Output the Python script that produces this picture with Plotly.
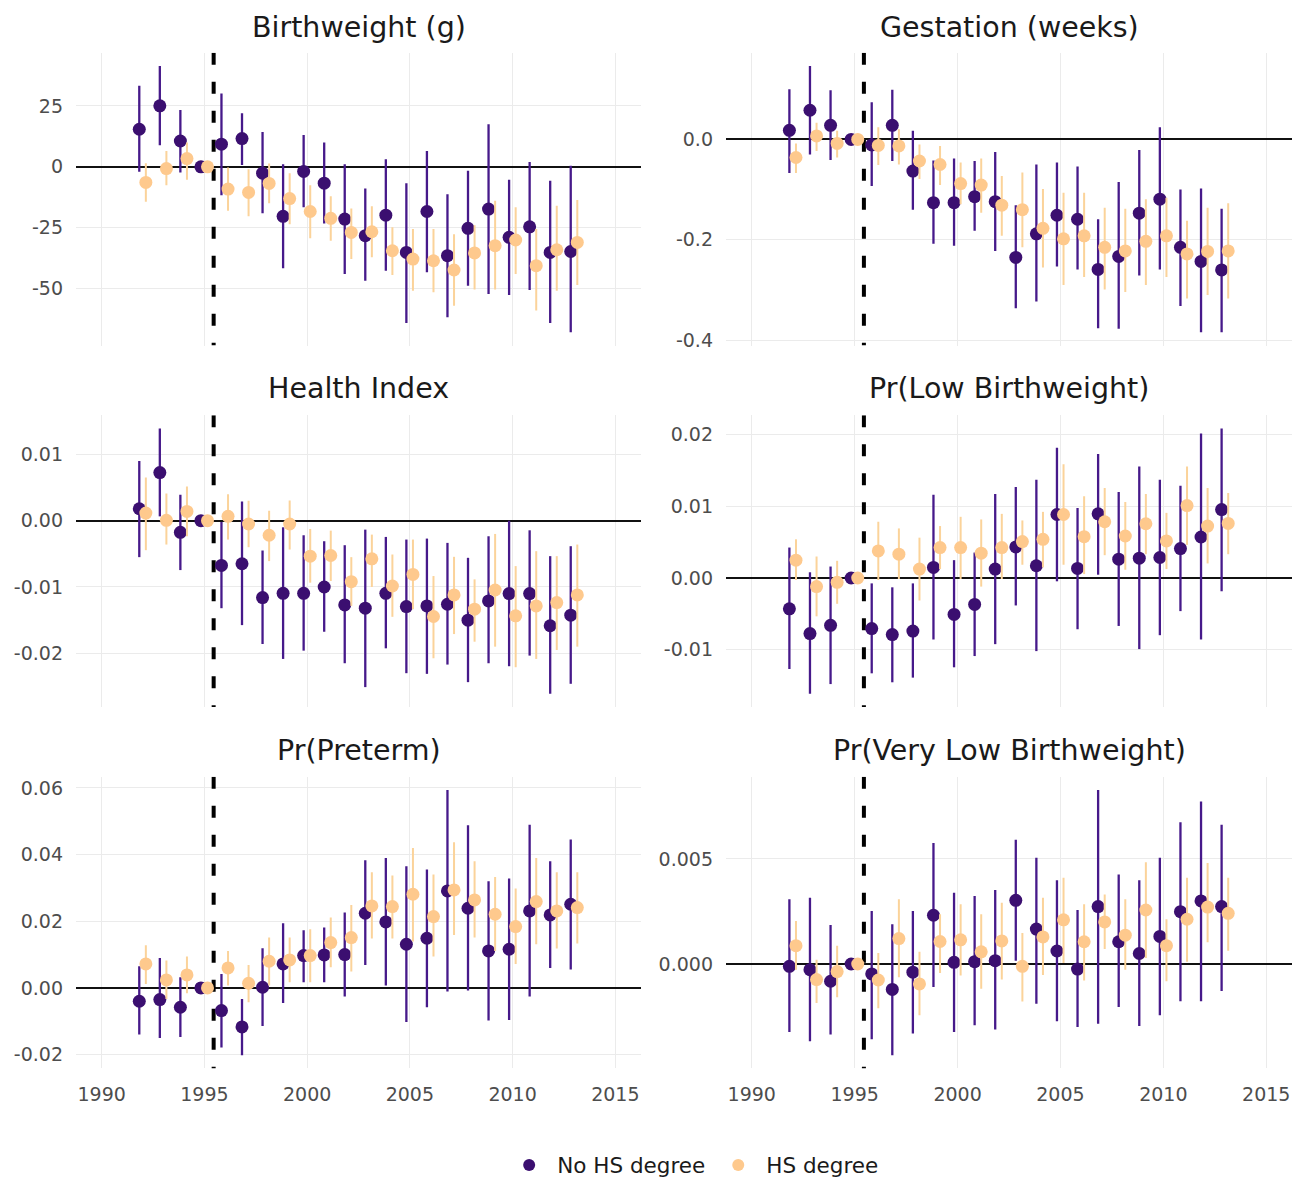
import plotly.graph_objects as go

# ---------------- data ----------------
years = list(range(1992, 2014))
event_year = 1995.45
x_limits = [1990, 2015]
x_tick_vals = [1990, 1995, 2000, 2005, 2010, 2015]
x_tick_text = ["1990", "1995", "2000", "2005", "2010", "2015"]
series_names = ["No HS degree", "HS degree"]
titles = ["Birthweight (g)", "Gestation (weeks)", "Health Index",
          "Pr(Low Birthweight)", "Pr(Preterm)", "Pr(Very Low Birthweight)"]

# Birthweight (g)
bw_nohs = [15.4, 25.0, 10.6, 0, 9.3, 11.6, -2.6, -20.3, -1.9, -6.7, -21.4, -28.2, -19.8, -35.1, -18.3, -36.4, -25.2, -17.3, -28.9, -24.6, -35.1, -34.7]
bw_nohs_lo = [-2.0, 8.9, -2.3, 0, -11.6, 0.8, -19.0, -41.6, -16.6, -23.2, -43.9, -46.7, -42.6, -64.0, -43.2, -61.7, -48.7, -52.1, -52.5, -50.5, -64.0, -67.8]
bw_nohs_hi = [33.2, 41.3, 23.3, 0, 30.1, 22.0, 14.3, 1.1, 13.1, 10.0, 1.1, -8.9, 3.1, -6.7, 6.5, -11.2, -1.6, 17.5, -5.3, 2.0, -5.7, 0.4]
bw_hs = [-6.4, -0.7, 3.4, 0, -9.1, -10.5, -6.8, -13.0, -18.3, -21.1, -26.9, -26.6, -34.4, -37.8, -38.5, -42.3, -35.3, -32.3, -30.0, -40.5, -34.0, -31.0]
bw_hs_lo = [-14.3, -7.5, -5.3, 0, -18.0, -20.3, -14.9, -23.5, -29.3, -30.3, -37.8, -37.1, -44.3, -50.8, -51.4, -56.9, -50.3, -50.3, -43.9, -58.9, -50.8, -48.4]
bw_hs_hi = [1.5, 6.5, 10.0, 0, -0.3, -1.0, 1.4, -2.6, -7.5, -12.1, -17.1, -16.2, -24.8, -25.5, -25.5, -27.6, -23.9, -13.9, -16.6, -25.5, -16.0, -13.6]

# Gestation (weeks)
gest_nohs = [0.018, 0.058, 0.028, 0, -0.011, 0.028, -0.063, -0.126, -0.126, -0.114, -0.124, -0.235, -0.188, -0.151, -0.159, -0.259, -0.233, -0.147, -0.119, -0.215, -0.243, -0.260]
gest_nohs_lo = [-0.067, -0.030, -0.041, 0, -0.093, -0.043, -0.140, -0.208, -0.212, -0.182, -0.222, -0.336, -0.323, -0.253, -0.259, -0.376, -0.377, -0.271, -0.259, -0.332, -0.384, -0.384]
gest_nohs_hi = [0.100, 0.146, 0.098, 0, 0.074, 0.099, 0.017, -0.042, -0.038, -0.043, -0.025, -0.131, -0.050, -0.046, -0.054, -0.159, -0.085, -0.021, 0.024, -0.100, -0.098, -0.138]
gest_hs = [-0.036, 0.007, -0.008, 0, -0.012, -0.013, -0.043, -0.050, -0.088, -0.091, -0.131, -0.140, -0.177, -0.198, -0.192, -0.215, -0.222, -0.203, -0.192, -0.228, -0.223, -0.222]
gest_hs_lo = [-0.067, -0.023, -0.036, 0, -0.051, -0.050, -0.079, -0.091, -0.129, -0.146, -0.192, -0.215, -0.255, -0.290, -0.274, -0.299, -0.304, -0.290, -0.274, -0.317, -0.310, -0.317]
gest_hs_hi = [-0.008, 0.033, 0.017, 0, 0.024, 0.020, -0.010, -0.013, -0.046, -0.038, -0.073, -0.066, -0.099, -0.106, -0.106, -0.136, -0.138, -0.119, -0.116, -0.162, -0.136, -0.127]

# Health Index
hi_nohs = [0.0018, 0.00725, -0.00175, 0, -0.00675, -0.0065, -0.0116, -0.01095, -0.01095, -0.0100, -0.0127, -0.0132, -0.01095, -0.01295, -0.01285, -0.0126, -0.0150, -0.0121, -0.0110, -0.0110, -0.01585, -0.01425]
hi_nohs_lo = [-0.0055, 0.00065, -0.00745, 0, -0.0132, -0.01575, -0.0186, -0.02085, -0.0196, -0.01675, -0.0215, -0.0251, -0.01925, -0.0230, -0.0231, -0.0217, -0.02435, -0.0215, -0.02195, -0.02035, -0.0261, -0.0246]
hi_nohs_hi = [0.0090, 0.0139, 0.0039, 0, -0.0002, 0.0029, -0.0045, -0.0010, -0.0022, -0.0031, -0.0037, -0.00135, -0.00245, -0.00285, -0.0027, -0.00335, -0.0056, -0.00235, 0.0, -0.00145, -0.00535, -0.00385]
hi_hs = [0.00115, 0.00005, 0.0014, 0, 0.00065, -0.0005, -0.0022, -0.0005, -0.00535, -0.00525, -0.0092, -0.00575, -0.00985, -0.0081, -0.01445, -0.0112, -0.01335, -0.01045, -0.01435, -0.01285, -0.01235, -0.0112]
hi_hs_lo = [-0.00445, -0.0036, -0.00235, 0, -0.00285, -0.0040, -0.0061, -0.00435, -0.00935, -0.0091, -0.01285, -0.0100, -0.0145, -0.01335, -0.02075, -0.0171, -0.01825, -0.0190, -0.0221, -0.02085, -0.0195, -0.0190]
hi_hs_hi = [0.0065, 0.0041, 0.00515, 0, 0.0040, 0.0030, 0.0015, 0.00305, -0.00125, -0.0015, -0.0055, -0.0021, -0.0051, -0.00285, -0.00835, -0.00545, -0.00885, -0.0020, -0.00685, -0.0046, -0.00535, -0.0036]

# Pr(Low Birthweight)
lbw_nohs = [-0.0043, -0.00775, -0.0066, 0, -0.00705, -0.0079, -0.0074, 0.00148, -0.00508, -0.00369, 0.00125, 0.00434, 0.00171, 0.00886, 0.00134, 0.00895, 0.00263, 0.00277, 0.00286, 0.00411, 0.00572, 0.00955]
lbw_nohs_lo = [-0.0127, -0.01615, -0.0148, 0, -0.0133, -0.01455, -0.0139, -0.00858, -0.01246, -0.01089, -0.00923, -0.00383, -0.0102, -0.00046, -0.00715, 0.00046, -0.00669, -0.00992, -0.00798, -0.00462, -0.00858, -0.00185]
lbw_nohs_hi = [0.00425, 0.0008, 0.0016, 0, -0.00075, -0.0013, -0.00075, 0.01163, 0.00249, 0.00355, 0.01172, 0.01269, 0.01371, 0.01818, 0.00978, 0.01731, 0.0120, 0.01555, 0.01371, 0.01288, 0.02017, 0.02086]
lbw_hs = [0.00249, -0.0012, -0.0006, 0, 0.00378, 0.00332, 0.00125, 0.00425, 0.00425, 0.00346, 0.00425, 0.00508, 0.0054, 0.00886, 0.00577, 0.00785, 0.00586, 0.00757, 0.00517, 0.01011, 0.00725, 0.00762]
lbw_hs_lo = [-0.00028, -0.00535, -0.0036, 0, -0.00028, -0.00014, -0.00314, 0.00125, -0.00014, -0.0012, -0.00014, 0.00185, 0.00148, 0.00185, 0.00055, 0.00318, 0.00115, 0.00332, 0.00125, 0.00462, 0.00203, 0.00332]
lbw_hs_hi = [0.0054, 0.0030, 0.0024, 0, 0.00785, 0.00692, 0.00563, 0.00725, 0.00854, 0.00817, 0.00895, 0.00803, 0.00923, 0.01588, 0.0114, 0.01255, 0.01062, 0.01172, 0.00909, 0.01555, 0.01255, 0.01186]

# Pr(Preterm)
pt_nohs = [-0.0040, -0.0035, -0.0058, 0, -0.0068, -0.0117, 0.0002, 0.0072, 0.0097, 0.0099, 0.0100, 0.0224, 0.0198, 0.0131, 0.0149, 0.0291, 0.0239, 0.0111, 0.0116, 0.0231, 0.0219, 0.0251]
pt_nohs_lo = [-0.0140, -0.0150, -0.0147, 0, -0.0179, -0.0202, -0.0114, -0.0045, 0.0017, 0.0017, -0.0026, 0.0069, 0.0007, -0.0102, -0.0058, -0.0011, -0.0008, -0.0098, -0.0096, -0.0026, 0.0060, 0.0055]
pt_nohs_hi = [0.0065, 0.0090, 0.0032, 0, 0.0042, -0.0033, 0.0119, 0.0194, 0.0173, 0.0181, 0.0226, 0.0383, 0.0390, 0.0365, 0.0355, 0.0594, 0.0488, 0.0320, 0.0328, 0.0490, 0.0380, 0.0445]
pt_hs = [0.0072, 0.0024, 0.0039, 0, 0.0060, 0.0014, 0.0080, 0.0084, 0.0097, 0.0136, 0.0151, 0.0246, 0.0244, 0.0281, 0.0214, 0.0294, 0.0264, 0.0221, 0.0184, 0.0259, 0.0231, 0.0241]
pt_hs_lo = [0.0012, -0.0033, -0.0016, 0, 0.0007, -0.0043, 0.0007, 0.0017, 0.0017, 0.0062, 0.0049, 0.0148, 0.0148, 0.0139, 0.0094, 0.0159, 0.0151, 0.0111, 0.0072, 0.0131, 0.0118, 0.0133]
pt_hs_hi = [0.0128, 0.0082, 0.0094, 0, 0.0111, 0.0069, 0.0151, 0.0151, 0.0176, 0.0211, 0.0249, 0.0347, 0.0337, 0.0420, 0.0340, 0.0437, 0.0380, 0.0333, 0.0298, 0.0390, 0.0347, 0.0347]

# Pr(Very Low Birthweight)
vlbw_nohs = [-0.00011, -0.00027, -0.00082, 0, -0.00047, -0.00121, -0.00039, 0.00232, 0.00008, 0.00011, 0.00016, 0.00303, 0.00166, 0.00062, -0.00024, 0.00273, 0.00106, 0.00050, 0.00131, 0.00249, 0.00300, 0.00273]
vlbw_nohs_lo = [-0.00323, -0.00368, -0.00336, 0, -0.00358, -0.00434, -0.00331, -0.00110, -0.00323, -0.00292, -0.00312, 0.00016, -0.00189, -0.00273, -0.00300, -0.00284, -0.00205, -0.00295, -0.00244, -0.00177, -0.00177, -0.00129]
vlbw_nohs_hi = [0.00308, 0.00315, 0.00185, 0, 0.00252, 0.00189, 0.00252, 0.00576, 0.00339, 0.00323, 0.00352, 0.00591, 0.00505, 0.00399, 0.00257, 0.00828, 0.00426, 0.00399, 0.00505, 0.00674, 0.00773, 0.00662]
vlbw_hs = [0.00087, -0.00074, -0.00036, 0, -0.00076, 0.00121, -0.00095, 0.00107, 0.00115, 0.00058, 0.00110, -0.00011, 0.00129, 0.00210, 0.00106, 0.00200, 0.00137, 0.00257, 0.00087, 0.00213, 0.00271, 0.00241]
vlbw_hs_lo = [-0.00027, -0.00185, -0.00158, 0, -0.00210, -0.00063, -0.00244, -0.00043, -0.00055, -0.00118, -0.00074, -0.00178, -0.00052, 0.00005, -0.00079, 0.00071, -0.00027, 0.00028, -0.00082, 0.00011, 0.00103, 0.00063]
vlbw_hs_hi = [0.00205, 0.00020, 0.00087, 0, 0.00052, 0.00308, 0.00058, 0.00237, 0.00284, 0.00237, 0.00292, 0.00147, 0.00315, 0.00410, 0.00284, 0.00331, 0.00308, 0.00484, 0.00213, 0.00410, 0.00481, 0.00410]

# y tick labels per panel
bw_ticks = [-50, -25, 0, 25]
bw_ticktext = ["-50", "-25", "0", "25"]
gest_ticks = [-0.4, -0.2, 0.0]
gest_ticktext = ["-0.4", "-0.2", "0.0"]
hi_ticks = [-0.02, -0.01, 0.0, 0.01]
hi_ticktext = ["-0.02", "-0.01", "0.00", "0.01"]
lbw_ticks = [-0.01, 0.0, 0.01, 0.02]
lbw_ticktext = ["-0.01", "0.00", "0.01", "0.02"]
pt_ticks = [-0.02, 0.0, 0.02, 0.04, 0.06]
pt_ticktext = ["-0.02", "0.00", "0.02", "0.04", "0.06"]
vlbw_ticks = [0.0, 0.005]
vlbw_ticktext = ["0.000", "0.005"]

panels = [
    (bw_nohs, bw_nohs_lo, bw_nohs_hi, bw_hs, bw_hs_lo, bw_hs_hi, bw_ticks, bw_ticktext),
    (gest_nohs, gest_nohs_lo, gest_nohs_hi, gest_hs, gest_hs_lo, gest_hs_hi, gest_ticks, gest_ticktext),
    (hi_nohs, hi_nohs_lo, hi_nohs_hi, hi_hs, hi_hs_lo, hi_hs_hi, hi_ticks, hi_ticktext),
    (lbw_nohs, lbw_nohs_lo, lbw_nohs_hi, lbw_hs, lbw_hs_lo, lbw_hs_hi, lbw_ticks, lbw_ticktext),
    (pt_nohs, pt_nohs_lo, pt_nohs_hi, pt_hs, pt_hs_lo, pt_hs_hi, pt_ticks, pt_ticktext),
    (vlbw_nohs, vlbw_nohs_lo, vlbw_nohs_hi, vlbw_hs, vlbw_hs_lo, vlbw_hs_hi, vlbw_ticks, vlbw_ticktext),
]

# ---------------- style / layout ----------------
W, H = 1302, 1186
FONT = "DejaVu Sans"
PURPLE_DOT, PURPLE_LINE = "#3B0F70", "#46198A"
ORANGE_DOT, ORANGE_LINE = "#FEC98D", "#FBD39A"
DODGE = [-0.17, 0.15]
col_px = [(76, 641), (726, 1292)]
row_px = [(53, 347), (417, 710), (780, 1073)]
title_px = [27.5, 390.5, 753.5]


def px_to_paper_x(p):
    return p / W


def px_to_paper_y(p):
    return 1 - p / H


def expand(lo, hi, f=0.05):
    d = (hi - lo) * f
    return [lo - d, hi + d]


fig = go.Figure()
layout = dict(
    width=W, height=H,
    margin=dict(l=0, r=0, t=0, b=0),
    paper_bgcolor="white", plot_bgcolor="white",
    font=dict(family=FONT, size=19, color="#4D4D4D"),
    showlegend=True,
)
annotations = []

x_range = expand(x_limits[0], x_limits[1])

for i, (n, nlo, nhi, h, hlo, hhi, tv, tt) in enumerate(panels):
    r, c = divmod(i, 2)
    k = i + 1
    xa = "x" if k == 1 else f"x{k}"
    ya = "y" if k == 1 else f"y{k}"
    xname = "xaxis" if k == 1 else f"xaxis{k}"
    yname = "yaxis" if k == 1 else f"yaxis{k}"

    all_vals = nlo + nhi + hlo + hhi + n + h
    y_range = expand(min(all_vals), max(all_vals))

    # dashed reference line (event year), drawn beneath the estimates
    fig.add_trace(go.Scatter(
        x=[event_year, event_year], y=[y_range[1], y_range[0]], mode="lines",
        line=dict(color="black", width=4, dash="12px,17px"),
        showlegend=False, hoverinfo="skip", xaxis=xa, yaxis=ya,
    ))

    specs = [
        (series_names[0], n, nlo, nhi, PURPLE_DOT, PURPLE_LINE, 2.3, DODGE[0]),
        (series_names[1], h, hlo, hhi, ORANGE_DOT, ORANGE_LINE, 2.0, DODGE[1]),
    ]
    for name, est, lo, hi, dot, line, lw, off in specs:
        fig.add_trace(go.Scatter(
            x=[yr + off for yr in years], y=est,
            mode="markers", name=name, legendgroup=name,
            showlegend=(k == 1),
            marker=dict(color=dot, size=13, line=dict(width=0)),
            error_y=dict(type="data", symmetric=False,
                         array=[b - a for a, b in zip(est, hi)],
                         arrayminus=[a - b for a, b in zip(est, lo)],
                         color=line, thickness=lw, width=0),
            xaxis=xa, yaxis=ya,
        ))

    x0, x1 = col_px[c]
    yt, yb = row_px[r]
    layout[xname] = dict(
        domain=[px_to_paper_x(x0), px_to_paper_x(x1)],
        range=x_range, anchor=ya,
        tickvals=x_tick_vals, ticktext=x_tick_text,
        showticklabels=(r == 2),
        showgrid=True, gridcolor="#EBEBEB", gridwidth=1.2,
        zeroline=False, showline=False, ticks="",
        tickfont=dict(size=19, color="#4D4D4D", family=FONT),
        ticklabelstandoff=13,
    )
    layout[yname] = dict(
        domain=[px_to_paper_y(yb), px_to_paper_y(yt)],
        range=y_range, anchor=xa,
        tickvals=tv, ticktext=tt,
        showgrid=True, gridcolor="#EBEBEB", gridwidth=1.2,
        zeroline=True, zerolinecolor="#111111", zerolinewidth=1.6,
        showline=False, ticks="",
        tickfont=dict(size=19, color="#4D4D4D", family=FONT),
        ticklabelstandoff=12,
    )
    annotations.append(dict(
        text=titles[i], showarrow=False,
        xref="paper", yref="paper",
        x=(px_to_paper_x(x0) + px_to_paper_x(x1)) / 2,
        y=px_to_paper_y(title_px[r]),
        xanchor="center", yanchor="middle",
        font=dict(size=28.5, color="#1A1A1A", family=FONT),
    ))

layout["annotations"] = annotations
layout["legend"] = dict(
    orientation="h", x=0.532, xanchor="center",
    y=px_to_paper_y(1170), yanchor="middle",
    font=dict(size=21.5, color="#1A1A1A", family=FONT),
    itemsizing="constant", itemwidth=46, bgcolor="rgba(0,0,0,0)",
)
fig.update_layout(**layout)
fig.write_html("out.html")
